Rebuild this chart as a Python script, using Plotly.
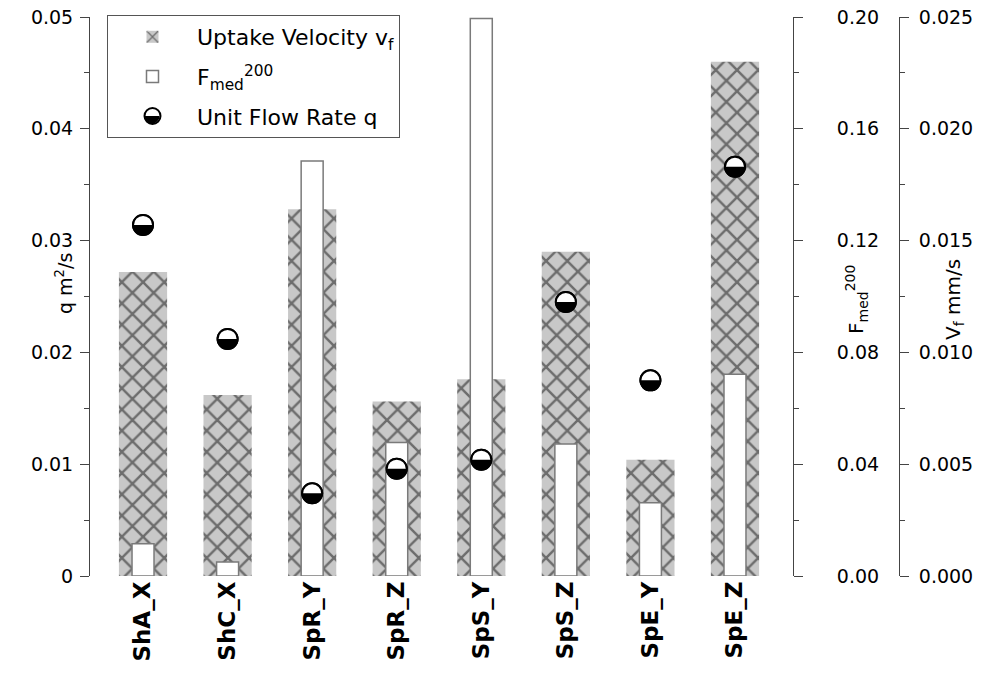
import plotly.graph_objects as go

# Sampling sites
sites = ["ShA_X", "ShC_X", "SpR_Y", "SpR_Z", "SpS_Y", "SpS_Z", "SpE_Y", "SpE_Z"]

# Uptake velocity v_f (mm/s)
uptake_vf = [0.0136, 0.0081, 0.0164, 0.0078, 0.0088, 0.0145, 0.0052, 0.0230]

# F_med^200
f_med = [0.0115, 0.0050, 0.1485, 0.0478, 0.1995, 0.0472, 0.0262, 0.0722]

# Unit flow rate q (m^2/s)
unit_q = [0.0314, 0.0212, 0.0074, 0.0096, 0.0104, 0.0245, 0.0175, 0.0366]

FONT = "DejaVu Sans"
AXIS_COLOR = "#444444"

# Plot-area geometry (pixels) used to place paper-referenced items
PLOT_L, PLOT_T, PLOT_B, FIG_W = 90, 17, 576, 993
PAPER_W = FIG_W - PLOT_L
PLOT_H = PLOT_B - PLOT_T


def px_x(px):
    return (px - PLOT_L) / PAPER_W


def px_y(py):
    return (PLOT_B - py) / PLOT_H


fig = go.Figure()

# Cross-hatched uptake velocity bars (drawn on the bottom subplot layer)
fig.add_trace(go.Bar(
    x=sites, y=uptake_vf, yaxis="y", width=0.57,
    name="Uptake Velocity v<sub>f</sub>",
    marker=dict(
        color="#c8c8c8",
        line=dict(width=0),
        pattern=dict(shape="x", size=15, solidity=0.3,
                     fgcolor="#111111", bgcolor="#c8c8c8", fillmode="overlay"),
    ),
    legendgroup="a",
))

# Narrow open bars for F_med^200
fig.add_trace(go.Bar(
    x=sites, y=f_med, yaxis="y2", width=0.26,
    name="F<sub>med</sub><sup>200</sup>",
    marker=dict(color="white", line=dict(color="#7a7a7a", width=1.5)),
    legendgroup="b",
))

# Unit flow rate markers (top layer); fill supplied by the half-filled discs below
fig.add_trace(go.Scatter(
    x=sites, y=unit_q, yaxis="y3", mode="markers",
    name="Unit Flow Rate q",
    marker=dict(symbol="circle", size=20, color="rgba(0,0,0,0)",
                line=dict(color="black", width=2)),
    legendgroup="c",
))


def lower_half(r):
    k = 0.5523 * r
    return (f"M{-r},0 C{-r},{-k} {-k},{-r} 0,{-r} "
            f"C{k},{-r} {r},{-k} {r},0 Z")


def half_disc(xref, yref, xa, ya, r, outline):
    # white disc with black lower half, sized in pixels around (xa, ya)
    fig.add_shape(
        type="circle", xref=xref, yref=yref,
        xsizemode="pixel", ysizemode="pixel", xanchor=xa, yanchor=ya,
        x0=-r, x1=r, y0=-r, y1=r,
        fillcolor="white", line=dict(color="black", width=outline),
        layer="above",
    )
    fig.add_shape(
        type="path", xref=xref, yref=yref,
        xsizemode="pixel", ysizemode="pixel", xanchor=xa, yanchor=ya,
        path=lower_half(r), fillcolor="black", line=dict(width=0),
        layer="above",
    )


for s, q in zip(sites, unit_q):
    half_disc("x", "y3", s, q, 10.0, 2)

# Half-filled disc behind the legend symbol of the flow-rate entry
half_disc("paper", "paper", px_x(152), px_y(116), 7.5, 0)

fig.update_layout(
    width=FIG_W, height=673,
    margin=dict(l=PLOT_L, r=0, t=PLOT_T, b=673 - PLOT_B),
    plot_bgcolor="white", paper_bgcolor="white",
    barmode="overlay",
    font=dict(family=FONT, size=19, color="black"),
    showlegend=True,
    legend=dict(
        x=px_x(107), y=px_y(15), xanchor="left", yanchor="top",
        bgcolor="rgba(0,0,0,0)", bordercolor="#555555", borderwidth=1,
        font=dict(family=FONT, size=22, color="black"),
        traceorder="grouped", tracegroupgap=8,
        itemwidth=79, entrywidth=230, entrywidthmode="pixels",
    ),
    xaxis=dict(
        domain=[0, px_x(793)], range=[-0.627, 7.686],
        showline=False, ticks="", showgrid=False, zeroline=False,
        tickangle=-90,
        tickfont=dict(family=FONT, size=23, color="black", weight="bold"),
    ),
    yaxis=dict(
        range=[0, 0.025], anchor="free", position=px_x(899), side="right",
        dtick=0.005, tickformat=".3f",
        showline=True, linecolor=AXIS_COLOR, linewidth=1,
        ticks="outside", ticklen=9, tickcolor=AXIS_COLOR,
        minor=dict(dtick=0.0025, ticks="outside", ticklen=5, tickcolor=AXIS_COLOR),
        showgrid=False, zeroline=False, ticklabelstandoff=6,
    ),
    yaxis2=dict(
        range=[0, 0.20], overlaying="y", anchor="x", side="right",
        dtick=0.04, tickformat=".2f",
        showline=True, linecolor=AXIS_COLOR, linewidth=1,
        ticks="outside", ticklen=9, tickcolor=AXIS_COLOR,
        minor=dict(dtick=0.02, ticks="outside", ticklen=5, tickcolor=AXIS_COLOR),
        showgrid=False, zeroline=False, ticklabelstandoff=30,
    ),
    yaxis3=dict(
        range=[0, 0.05], overlaying="y", anchor="x", side="left",
        dtick=0.01,
        showline=True, linecolor=AXIS_COLOR, linewidth=1,
        ticks="outside", ticklen=9, tickcolor=AXIS_COLOR,
        minor=dict(dtick=0.005, ticks="outside", ticklen=5, tickcolor=AXIS_COLOR),
        showgrid=False, zeroline=False, ticklabelstandoff=3,
    ),
)

# Axis titles
fig.add_annotation(text="q m<sup>2</sup>/s", xref="paper", yref="paper",
                   x=px_x(64), y=px_y(284), xanchor="center", yanchor="middle",
                   textangle=-90, showarrow=False,
                   font=dict(family=FONT, size=19))
fig.add_annotation(text="F<sub>med</sub><sup>200</sup>", xref="paper", yref="paper",
                   x=px_x(856), y=px_y(300), xanchor="center", yanchor="middle",
                   textangle=-90, showarrow=False,
                   font=dict(family=FONT, size=20))
fig.add_annotation(text="V<sub>f</sub> mm/s", xref="paper", yref="paper",
                   x=px_x(954), y=px_y(300), xanchor="center", yanchor="middle",
                   textangle=-90, showarrow=False,
                   font=dict(family=FONT, size=20))

fig.write_html("out.html")
